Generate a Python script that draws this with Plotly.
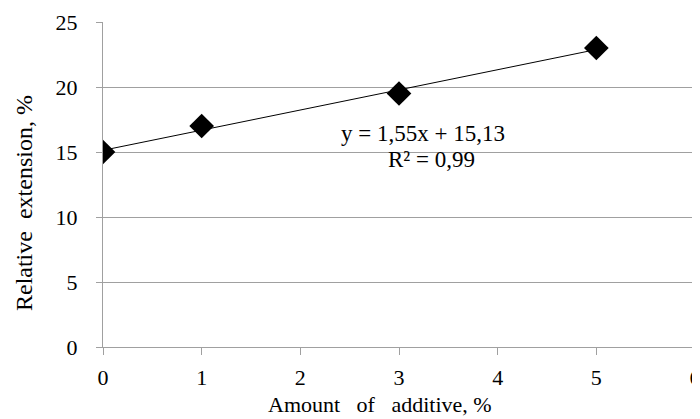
import plotly.graph_objects as go

additive = [0, 1, 3, 5]
extension = [15, 17, 19.5, 23]
trend_slope = 1.55
trend_intercept = 15.13
trend_x = [0, 5]
trend_y = [trend_intercept + trend_slope * x for x in trend_x]
x_ticks = [0, 1, 2, 3, 4, 5, 6]
y_ticks = [0, 5, 10, 15, 20, 25]

FONT = "Liberation Serif"
GRID = "#a0a0a0"

fig = go.Figure()
fig.add_trace(go.Scatter(x=trend_x, y=trend_y, mode="lines",
                         line=dict(color="black", width=1), hoverinfo="skip"))
fig.add_trace(go.Scatter(x=additive, y=extension, mode="markers",
                         marker=dict(symbol="diamond", size=19, color="black")))

fig.add_annotation(x=3.24, y=16.46, xref="x", yref="y",
                   text="y = 1,55x + 15,13", showarrow=False,
                   font=dict(family=FONT, size=23, color="black"))
fig.add_annotation(x=3.33, y=14.4, xref="x", yref="y",
                   text="R² = 0,99", showarrow=False,
                   font=dict(family=FONT, size=23, color="black"))

# axis titles
fig.add_annotation(xref="paper", yref="paper", x=0.468, y=0, yanchor="middle",
                   yshift=-57, text="Amount   of   additive, %", showarrow=False,
                   font=dict(family=FONT, size=22, color="black"))
fig.add_annotation(xref="paper", yref="paper", x=0, y=0.443, xanchor="center",
                   xshift=-79, textangle=-90, text="Relative  extension, %",
                   showarrow=False,
                   font=dict(family=FONT, size=24, color="black"))

# page body has an 8px default margin, so the figure is drawn 8px in
fig.update_layout(
    width=692, height=411,
    margin=dict(l=95, r=5, t=14, b=72),
    paper_bgcolor="white", plot_bgcolor="white",
    showlegend=False,
    font=dict(family=FONT, size=22, color="black"),
    xaxis=dict(range=[0, 6], tickvals=x_ticks, showgrid=False, zeroline=False,
               automargin=False,
               showline=True, linecolor=GRID, linewidth=1,
               ticks="outside", ticklen=7, tickcolor=GRID,
               ticklabelstandoff=4, ticklabeloverflow="allow",
               tickfont=dict(family=FONT, size=22, color="black")),
    yaxis=dict(range=[0, 25], tickvals=y_ticks, showgrid=True, gridcolor=GRID,
               gridwidth=1, zeroline=False, automargin=False,
               showline=True, linecolor=GRID, linewidth=1,
               ticks="outside", ticklen=6, tickcolor=GRID,
               ticklabelstandoff=14,
               tickfont=dict(family=FONT, size=22, color="black")),
)

fig.write_html("out.html")
